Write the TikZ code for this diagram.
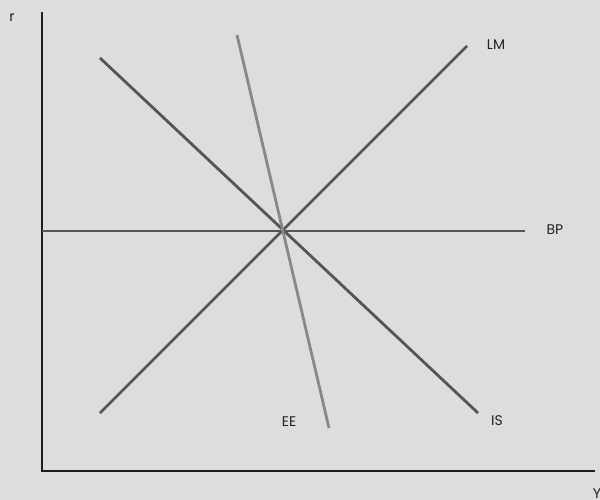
\documentclass[tikz,border=0pt]{standalone}
\usepackage{fontspec}
\setmainfont{Poppins}
\begin{document}
\begin{tikzpicture}[x=1pt,y=-1pt,
  axis/.style={line width=2.8pt,color=axiscol},
  curve/.style={line width=2.8pt,color=curvecol},
  lightcurve/.style={line width=2.8pt,color=eecol},
  lbl/.style={font=\fontsize{14}{16}\selectfont,text=labelcol,inner sep=0pt}]
\definecolor{bgcol}{HTML}{DCDDDE}
\definecolor{axiscol}{HTML}{1E1E1E}
\definecolor{curvecol}{HTML}{555555}
\definecolor{eecol}{HTML}{888888}
\definecolor{labelcol}{HTML}{222222}
\fill[bgcol] (0,0) rectangle (600,500);
\useasboundingbox (0,0) rectangle (600,500);
% axes
\coordinate (ytop) at (42,12);
\coordinate (org) at (42,471);
\coordinate (xend) at (595,471);
\draw[axis] (ytop) -- (org) -- (xend);
\node[lbl] (r) at (12,18) {r};
\node[lbl] (Y) at (597,494) {Y};
% curves
\coordinate (lm0) at (100,413);
\coordinate (lm1) at (467,46);
\coordinate (is0) at (100,58);
\coordinate (is1) at (478,413);
\coordinate (bp0) at (42,231);
\coordinate (bp1) at (525,231);
\coordinate (ee0) at (237,35);
\coordinate (ee1) at (329,428);
\draw[curve] (lm0) -- (lm1);
\draw[curve] (is0) -- (is1);
\draw[curve] (bp0) -- (bp1);
\draw[lightcurve] (ee0) -- (ee1);
\node[lbl] (LM) at (496,45) {LM};
\node[lbl] (BP) at (555,230) {BP};
\node[lbl] (IS) at (497,421) {IS};
\node[lbl] (EE) at (289,422) {EE};
\end{tikzpicture}
\end{document}
